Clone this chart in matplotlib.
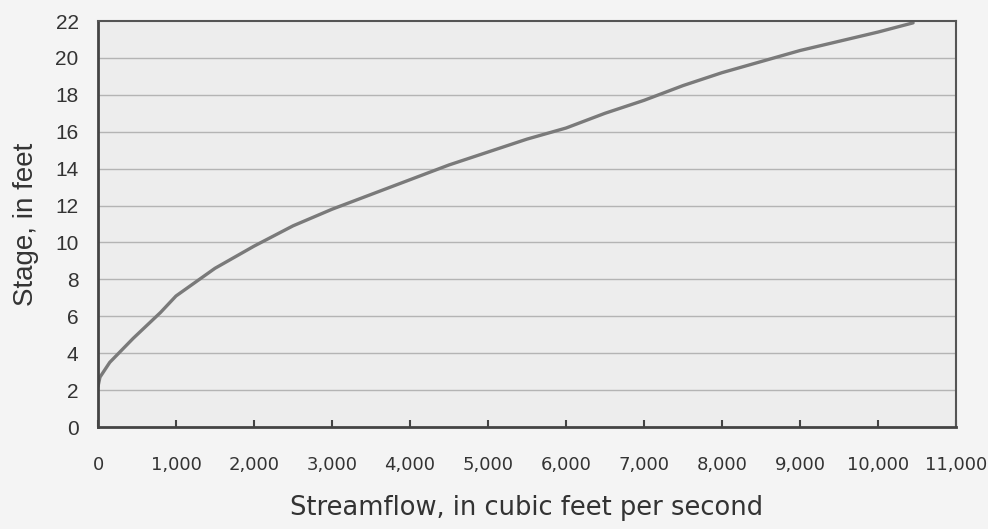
import matplotlib
matplotlib.use('Agg')
import matplotlib.pyplot as plt
from matplotlib.ticker import FuncFormatter

# stage-discharge rating curve
flow_cfs = [0, 25, 150, 450, 800, 1000, 1500, 2000, 2500, 3000, 3500, 4000,
            4500, 5000, 5500, 6000, 6500, 7000, 7500, 8000, 8500, 9000,
            9500, 10000, 10450]
stage_ft = [2.2, 2.7, 3.5, 4.8, 6.2, 7.1, 8.6, 9.8, 10.9, 11.8, 12.6, 13.4,
            14.2, 14.9, 15.6, 16.2, 17.0, 17.7, 18.5, 19.2, 19.8, 20.4,
            20.9, 21.4, 21.9]

x_ticks = list(range(0, 11001, 1000))
y_ticks = list(range(0, 23, 2))

plt.rcParams['font.family'] = ['Liberation Sans', 'DejaVu Sans']

fig = plt.figure(figsize=(9.88, 5.29), dpi=100, facecolor='#f4f4f4')
ax = fig.add_axes([0.0992, 0.1928, 0.8684, 0.7675])
ax.set_facecolor('#ededed')

ax.plot(flow_cfs, stage_ft, color='#7a7a7a', linewidth=2.4, solid_capstyle='round')

ax.set_xlim(0, 11000)
ax.set_ylim(0, 22)
ax.set_xticks(x_ticks)
ax.set_yticks(y_ticks)
ax.xaxis.set_major_formatter(FuncFormatter(lambda v, p: f'{int(v):,}'))

# horizontal grid only, none on top edge
for y in y_ticks[1:-1]:
    ax.axhline(y, color='#b4b4b4', linewidth=1.0, zorder=0)

ax.tick_params(axis='x', direction='in', length=5, width=1.5, color='#444444',
               pad=21, labelcolor='#333333')
ax.tick_params(axis='y', length=0, pad=14, labelsize=15, labelcolor='#333333')
for lbl in ax.get_xticklabels():
    lbl.set_fontfamily('DejaVu Sans')
    lbl.set_fontsize(13)

for side in ['left', 'bottom']:
    ax.spines[side].set_linewidth(2.0)
    ax.spines[side].set_color('#444444')
for side in ['top', 'right']:
    ax.spines[side].set_linewidth(1.5)
    ax.spines[side].set_color('#555555')

ax.set_xlabel('Streamflow, in cubic feet per second', fontsize=18.5, color='#333333',
              labelpad=15, family='DejaVu Sans')
ax.set_ylabel('Stage, in feet', fontsize=20, color='#333333', labelpad=12)

fig.savefig('out.png', dpi=100, facecolor=fig.get_facecolor())
